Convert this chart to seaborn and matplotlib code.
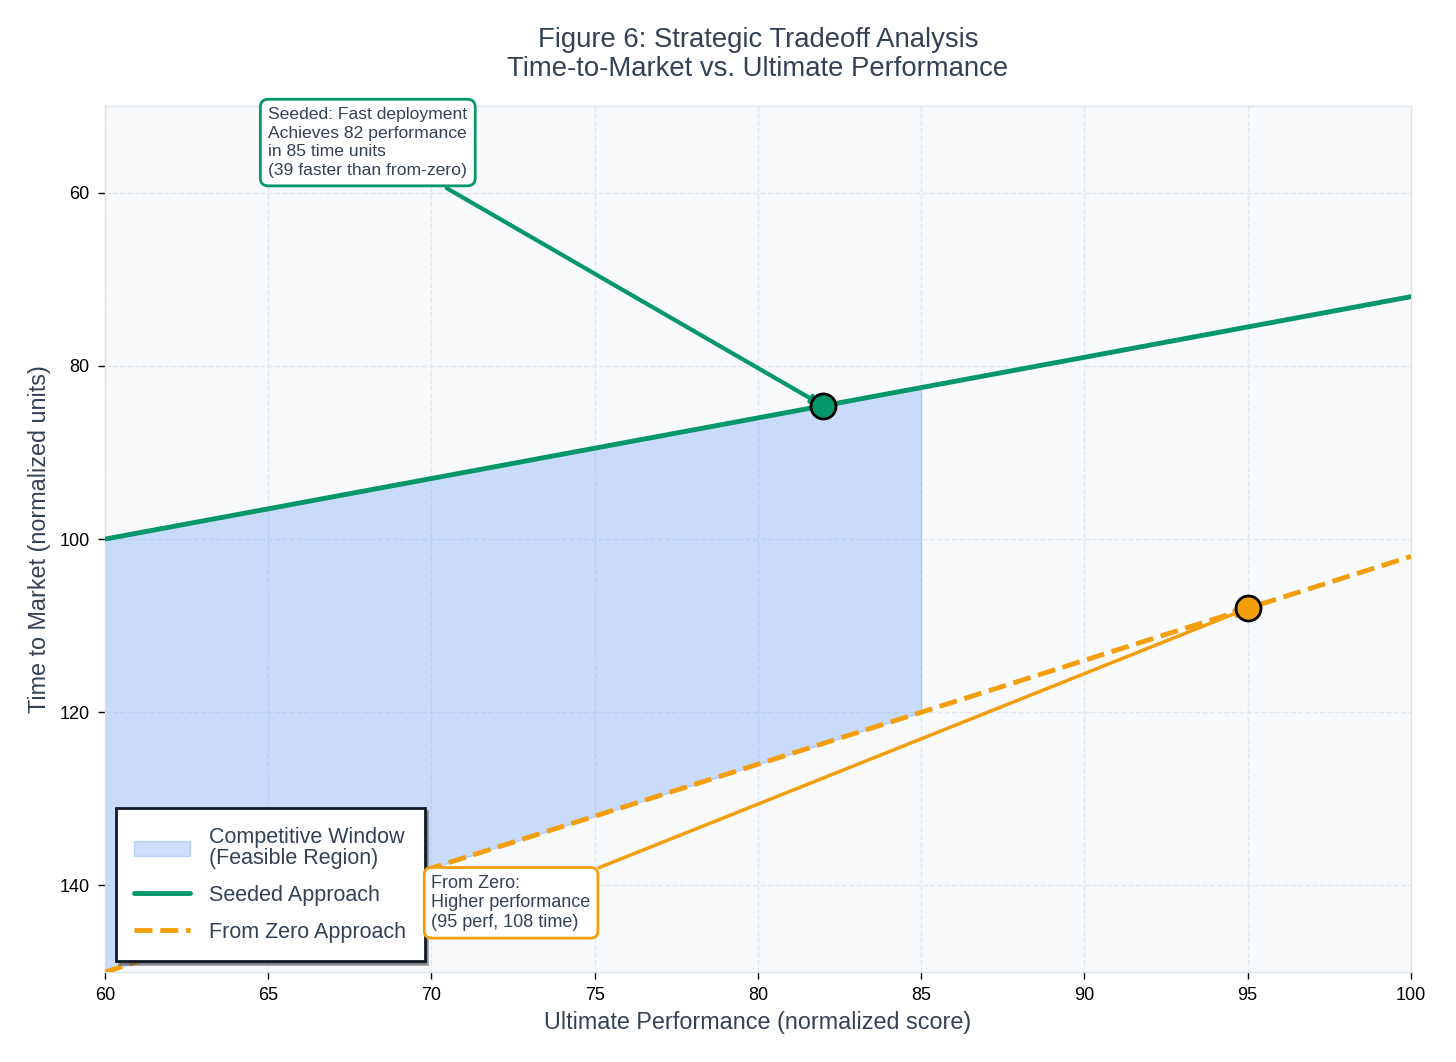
import matplotlib.pyplot as plt
import numpy as np
import pandas as pd
import seaborn as sns
from matplotlib.patches import Patch
from matplotlib.lines import Line2D

# values
performance = [60, 65, 70, 75, 80, 85, 90, 95, 100]
seeded_time = [100, 96.5, 93, 89.5, 86, 82.5, 79, 75.5, 72]
zero_time = [150, 144, 138, 132, 126, 120, 114, 108, 102]
window_max_perf = 85

seeded_point = (82, 84.6)
zero_point = (95, 108)

x_ticks = [60, 65, 70, 75, 80, 85, 90, 95, 100]
y_ticks = [60, 80, 100, 120, 140]

GREEN = "#059669"
ORANGE = "#f59e0b"
BLUE = "#3b82f6"
SLATE = "#334155"


def main():
    sns.set_theme(style="whitegrid")
    plt.rcParams["font.family"] = ["Liberation Sans", "DejaVu Sans"]

    df = pd.DataFrame({
        "perf": performance,
        "seeded": seeded_time,
        "zero": zero_time,
    })

    fig = plt.figure(figsize=(14.56, 10.62), dpi=100)
    ax = fig.add_axes([0.0721, 0.0847, 0.8969, 0.8153])
    ax.set_facecolor("#f8fafc")

    win = df[df["perf"] <= window_max_perf]
    ax.fill_between(win["perf"], win["seeded"], win["zero"], color=BLUE, alpha=0.25,
                    linewidth=1, zorder=1)

    sns.lineplot(data=df, x="perf", y="seeded", ax=ax, color=GREEN, linewidth=3.5, zorder=3)
    sns.lineplot(data=df, x="perf", y="zero", ax=ax, color=ORANGE, linewidth=3.5,
                 linestyle="--", zorder=3)

    ax.annotate(
        "Seeded: Fast deployment\nAchieves 82 performance\nin 85 time units\n(39 faster than from-zero)",
        xy=seeded_point, xytext=(65.0, 54.2), textcoords="data",
        ha="left", va="center", fontsize=12.6, linespacing=1.3, color=SLATE,
        annotation_clip=False,
        bbox=dict(boxstyle="round,pad=0.45", facecolor="white", edgecolor=GREEN, linewidth=2),
        arrowprops=dict(arrowstyle="-|>", color=GREEN, linewidth=3, mutation_scale=12),
        zorder=6,
    )
    ax.annotate(
        "From Zero:\nHigher performance\n(95 perf, 108 time)",
        xy=zero_point, xytext=(70.0, 142.0), textcoords="data",
        ha="left", va="center", fontsize=13, linespacing=1.2, color=SLATE,
        bbox=dict(boxstyle="round,pad=0.4", facecolor="white", edgecolor=ORANGE, linewidth=2),
        arrowprops=dict(arrowstyle="-|>", color=ORANGE, linewidth=2.5, mutation_scale=12),
        zorder=6,
    )

    ax.plot(*seeded_point, "o", markersize=18, color=GREEN, markeredgecolor="black",
            markeredgewidth=2, zorder=7)
    ax.plot(*zero_point, "o", markersize=18, color=ORANGE, markeredgecolor="black",
            markeredgewidth=2, zorder=7)

    ax.set_xlim(60, 100)
    ax.set_ylim(150, 50)
    ax.set_xticks(x_ticks)
    ax.set_yticks(y_ticks)
    ax.tick_params(axis="both", labelsize=13, colors="black", length=5, width=1,
                   bottom=True, left=True, pad=6)
    ax.grid(True, linestyle="--", color="#e2e8f0", linewidth=1)
    for s in ax.spines.values():
        s.set_color("#dbe3ee")
        s.set_linewidth(1)

    ax.set_xlabel("Ultimate Performance (normalized score)", fontsize=16.8, color=SLATE,
                  labelpad=5)
    ax.set_ylabel("Time to Market (normalized units)", fontsize=16.8, color=SLATE,
                  labelpad=6)
    ax.set_title("Figure 6: Strategic Tradeoff Analysis\nTime-to-Market vs. Ultimate Performance",
                 fontsize=19.8, color=SLATE, pad=22, linespacing=1.15)

    handles = [
        Patch(facecolor=BLUE, alpha=0.25, edgecolor=BLUE, label="Competitive Window\n(Feasible Region)"),
        Line2D([], [], color=GREEN, linewidth=3.5, label="Seeded Approach"),
        Line2D([], [], color=ORANGE, linewidth=3.5, linestyle="--", label="From Zero Approach"),
    ]
    leg = ax.legend(handles=handles, loc="lower left", fontsize=15.5, frameon=True,
                    fancybox=False, shadow=True, framealpha=1, handlelength=2.6,
                    borderpad=0.85, labelspacing=0.75, handletextpad=0.9)
    leg.get_frame().set_edgecolor("#111827")
    leg.get_frame().set_linewidth(2)
    for t in leg.get_texts():
        t.set_color(SLATE)
        t.set_linespacing(1.0)

    fig.savefig("out.png", dpi=100)


if __name__ == "__main__":
    main()
